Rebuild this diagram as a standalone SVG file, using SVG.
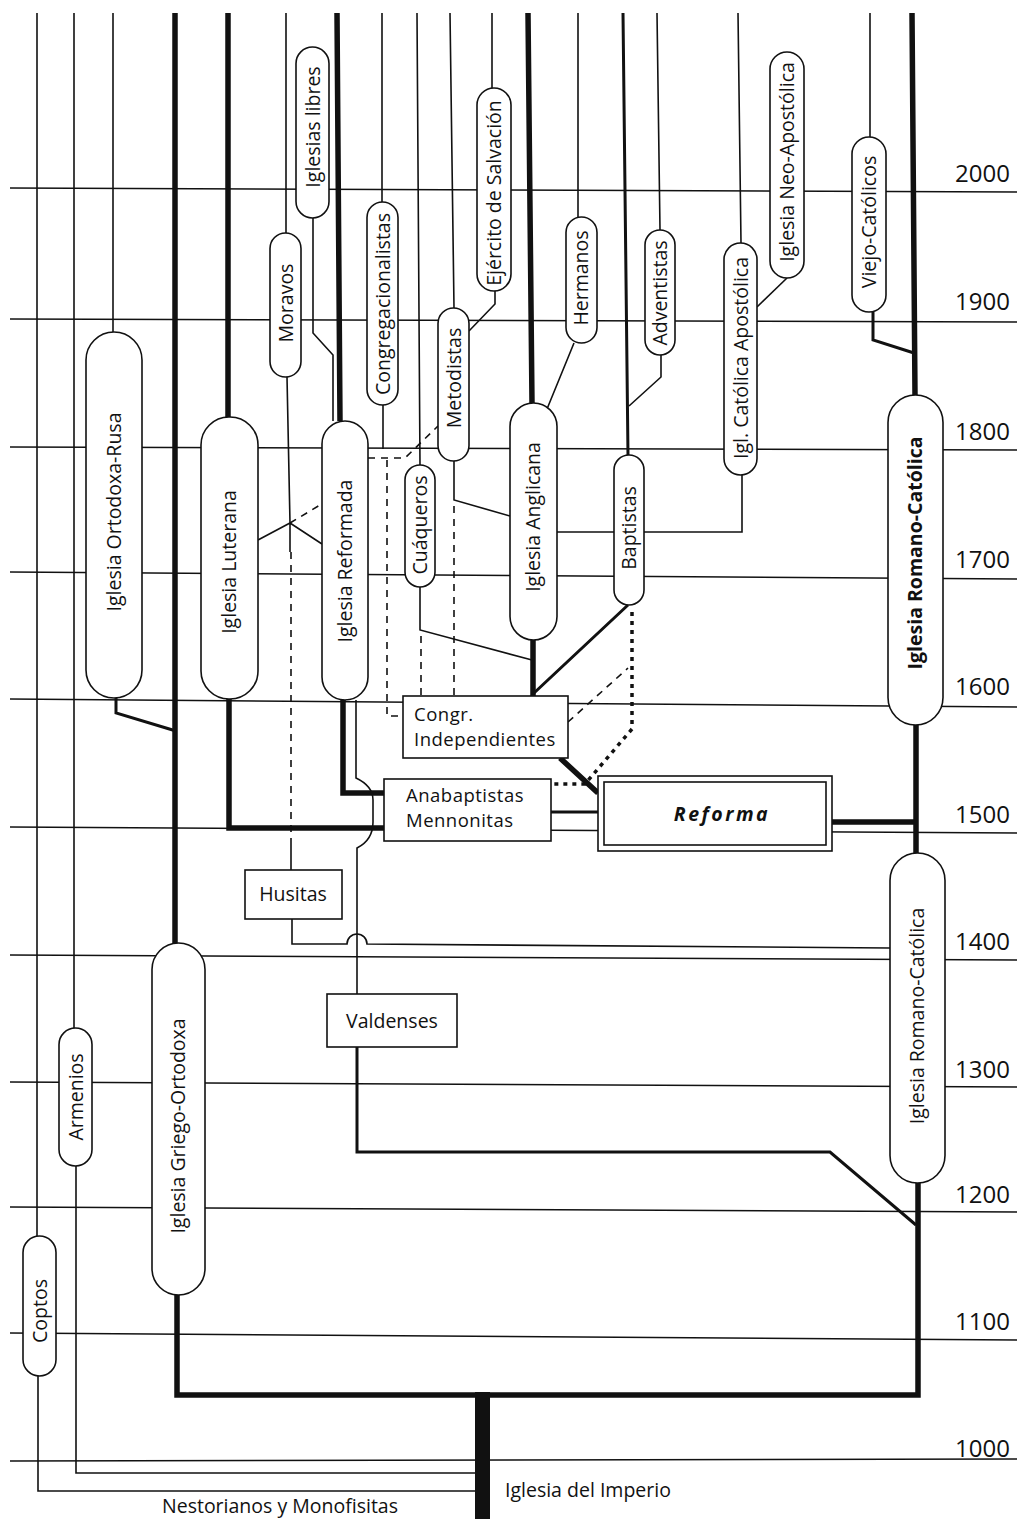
<svg xmlns="http://www.w3.org/2000/svg" width="1017" height="1519" viewBox="0 0 1017 1519">
<style>
.yl{stroke:#111;stroke-width:1.5;fill:none}
.c{stroke:#111;stroke-width:1.6;fill:none}
.m{stroke-width:3}
.k{stroke-width:5.5}
.d{stroke-dasharray:7 6}
.o{stroke-width:3.5;stroke-dasharray:4 5}
.p{fill:#fff;stroke:#111;stroke-width:1.6}
.t{font-family:"Open Sans","Liberation Sans",sans-serif;font-size:19.5px;fill:#111}
.b{font-size:18.5px;letter-spacing:0.5px}
.y{font-family:"Open Sans","Liberation Sans",sans-serif;font-size:24px;fill:#111}
</style>
<rect width="1017" height="1519" fill="#fff"/>
<g id="years">
<line class="yl" x1="10" y1="188" x2="1017" y2="192"/>
<line class="yl" x1="10" y1="319" x2="1017" y2="322"/>
<line class="yl" x1="10" y1="447" x2="1017" y2="450"/>
<line class="yl" x1="10" y1="572" x2="1017" y2="579"/>
<line class="yl" x1="10" y1="699" x2="1017" y2="707"/>
<line class="yl" x1="10" y1="827" x2="1017" y2="833"/>
<line class="yl" x1="10" y1="955" x2="1017" y2="960"/>
<line class="yl" x1="10" y1="1082" x2="1017" y2="1087"/>
<line class="yl" x1="10" y1="1207" x2="1017" y2="1212"/>
<line class="yl" x1="10" y1="1333" x2="1017" y2="1340"/>
<line class="yl" x1="10" y1="1461" x2="1017" y2="1459"/>
<text class="y" x="955" y="182">2000</text>
<text class="y" x="955" y="310">1900</text>
<text class="y" x="955" y="440">1800</text>
<text class="y" x="955" y="568">1700</text>
<text class="y" x="955" y="695">1600</text>
<text class="y" x="955" y="823">1500</text>
<text class="y" x="955" y="950">1400</text>
<text class="y" x="955" y="1078">1300</text>
<text class="y" x="955" y="1203">1200</text>
<text class="y" x="955" y="1330">1100</text>
<text class="y" x="955" y="1457">1000</text>
</g>
<g id="connectors">
<path class="c" d="M37,13 V1236 M38,1376 V1491 H476"/>
<path class="c" d="M74,13 V1028 M76,1166 V1473 H476"/>
<path class="c" d="M113,13 V332"/>
<path class="c m" d="M116,698 V713 L176,731"/>
<path class="c k" d="M175,13 V943"/>
<path class="c k" d="M177,1295 V1395 H918 V1183"/>
<rect x="475" y="1392" width="15" height="127" fill="#111"/>
<path class="c k" d="M228,13 V417 M229,699 V828 H384"/>
<path class="c" d="M286,13 V233 M287,377 L290,523 V552 M258,540 L290,523 L322,544 M291,840 V870"/>
<path class="c d" d="M290,523 L320,505 M291,552 V840"/>
<path class="c" d="M313,218 V333 L333,355 V421"/>
<path class="c k" d="M337,13 L340,421 M343,700 V793 H384"/>
<path class="c" d="M356,700 V778 Q373,786 373,800 V822 Q373,840 357,848 V994"/>
<path class="c m" d="M357,1047 V1152 H830 L916,1225"/>
<path class="c" d="M292,919 V944 H347 A10,10 0 0 1 367,944 L890,948"/>
<path class="c" d="M382,13 V202 M383,405 V449"/>
<path class="c d" d="M387,460 V716 H403 M368,458 H405 L438,426"/>
<path class="c" d="M417,13 L420,465 M420,587 V630 L532,660"/>
<path class="c d" d="M421,636 V696"/>
<path class="c" d="M450,13 L454,308 M454,461 V500 L510,516"/>
<path class="c d" d="M454,506 V696"/>
<path class="c" d="M492,13 V88 M495,291 V304 L469,331"/>
<path class="c k" d="M528,13 L532,403 M533,640 V696 M560,758 L598,793"/>
<path class="c" d="M578,13 V217 M574,343 L547,409"/>
<path class="c m" d="M623,13 L628,455 M628,605 L534,693"/>
<path class="c" d="M657,13 L660,230 M661,355 V377 L629,406"/>
<path class="c o" d="M632,612 V729 L585,784 H551"/>
<path class="c d" d="M568,722 L628,668"/>
<path class="c m" d="M551,812 H598"/>
<path class="c" d="M738,13 L741,243 M742,475 V532 H557"/>
<path class="c" d="M787,278 L757,307"/>
<path class="c" d="M870,13 V137"/>
<path class="c m" d="M873,312 V340 L914,353"/>
<path class="c k" d="M912,13 L915,395 M916,725 V853 M832,822 H916"/>
</g>
<g id="n-rusa"><rect class="p" x="86" y="332" width="56" height="366" rx="28"/><text class="t" transform="translate(114,512) rotate(-90)" text-anchor="middle" dy="6.5">Iglesia Ortodoxa-Rusa</text></g>
<g id="n-luterana"><rect class="p" x="201" y="417" width="57" height="282" rx="28"/><text class="t" transform="translate(229,562) rotate(-90)" text-anchor="middle" dy="6.5">Iglesia Luterana</text></g>
<g id="n-reformada"><rect class="p" x="322" y="421" width="46" height="279" rx="23"/><text class="t" transform="translate(345,561) rotate(-90)" text-anchor="middle" dy="6.5">Iglesia Reformada</text></g>
<g id="n-moravos"><rect class="p" x="270" y="233" width="31" height="144" rx="15.5"/><text class="t" transform="translate(286,303) rotate(-90)" text-anchor="middle" dy="6.5">Moravos</text></g>
<g id="n-libres"><rect class="p" x="296" y="47" width="33" height="171" rx="16.5"/><text class="t" transform="translate(313,127) rotate(-90)" text-anchor="middle" dy="6.5">Iglesias libres</text></g>
<g id="n-congregacionalistas"><rect class="p" x="367" y="202" width="31" height="203" rx="15.5"/><text class="t" transform="translate(383,304) rotate(-90)" text-anchor="middle" dy="6.5">Congregacionalistas</text></g>
<g id="n-cuaqueros"><rect class="p" x="405" y="465" width="30" height="122" rx="15"/><text class="t" transform="translate(420,525) rotate(-90)" text-anchor="middle" dy="6.5">Cuáqueros</text></g>
<g id="n-metodistas"><rect class="p" x="438" y="308" width="31" height="153" rx="15.5"/><text class="t" transform="translate(454,378) rotate(-90)" text-anchor="middle" dy="6.5">Metodistas</text></g>
<g id="n-ejercito"><rect class="p" x="477" y="88" width="34" height="203" rx="17"/><text class="t" transform="translate(494,193) rotate(-90)" text-anchor="middle" dy="6.5">Ejército de Salvación</text></g>
<g id="n-anglicana"><rect class="p" x="510" y="403" width="47" height="237" rx="23.5"/><text class="t" transform="translate(533,517) rotate(-90)" text-anchor="middle" dy="6.5">Iglesia Anglicana</text></g>
<g id="n-hermanos"><rect class="p" x="566" y="217" width="31" height="126" rx="15.5"/><text class="t" transform="translate(581,278) rotate(-90)" text-anchor="middle" dy="6.5">Hermanos</text></g>
<g id="n-baptistas"><rect class="p" x="614" y="455" width="30" height="150" rx="15"/><text class="t" transform="translate(629,528) rotate(-90)" text-anchor="middle" dy="6.5">Baptistas</text></g>
<g id="n-adventistas"><rect class="p" x="645" y="230" width="30" height="125" rx="15"/><text class="t" transform="translate(660,293) rotate(-90)" text-anchor="middle" dy="6.5">Adventistas</text></g>
<g id="n-catapost"><rect class="p" x="724" y="243" width="33" height="232" rx="16.5"/><text class="t" transform="translate(741,358) rotate(-90)" text-anchor="middle" dy="6.5">Igl. Católica Apostólica</text></g>
<g id="n-neoapost"><rect class="p" x="770" y="52" width="34" height="226" rx="17"/><text class="t" transform="translate(787,162) rotate(-90)" text-anchor="middle" dy="6.5">Iglesia Neo-Apostólica</text></g>
<g id="n-viejo"><rect class="p" x="852" y="137" width="34" height="175" rx="17"/><text class="t" transform="translate(869,222) rotate(-90)" text-anchor="middle" dy="6.5">Viejo-Católicos</text></g>
<g id="n-rc-upper"><rect class="p" x="888" y="395" width="55" height="330" rx="27.5"/><text class="t" transform="translate(915,553) rotate(-90)" text-anchor="middle" dy="6.5" font-weight="bold">Iglesia Romano-Católica</text></g>
<g id="n-rc-lower"><rect class="p" x="890" y="853" width="55" height="330" rx="27.5"/><text class="t" transform="translate(917,1016) rotate(-90)" text-anchor="middle" dy="6.5">Iglesia Romano-Católica</text></g>
<g id="n-griego"><rect class="p" x="152" y="943" width="53" height="352" rx="26.5"/><text class="t" transform="translate(178,1126) rotate(-90)" text-anchor="middle" dy="6.5">Iglesia Griego-Ortodoxa</text></g>
<g id="n-armenios"><rect class="p" x="59" y="1028" width="33" height="138" rx="16.5"/><text class="t" transform="translate(76,1097) rotate(-90)" text-anchor="middle" dy="6.5">Armenios</text></g>
<g id="n-coptos"><rect class="p" x="23" y="1236" width="33" height="140" rx="16.5"/><text class="t" transform="translate(40,1311) rotate(-90)" text-anchor="middle" dy="6.5">Coptos</text></g>
<g id="n-congrind"><rect class="p" x="403" y="696" width="165" height="62"/><text class="t b" x="414" y="721">Congr.</text><text class="t b" x="414" y="746">Independientes</text></g>
<g id="n-anabaptistas"><rect class="p" x="384" y="779" width="167" height="62"/><text class="t b" x="406" y="802">Anabaptistas</text><text class="t b" x="406" y="827">Mennonitas</text></g>
<g id="n-reforma"><rect class="p" x="598" y="776" width="234" height="75"/><rect class="p" x="604" y="782" width="222" height="63" stroke-width="2"/><text class="t" x="722" y="821" text-anchor="middle" font-size="24" font-weight="bold" font-style="italic" letter-spacing="2.5">Reforma</text></g>
<g id="n-husitas"><rect class="p" x="245" y="870" width="97" height="49"/><text class="t" x="293" y="901" text-anchor="middle">Husitas</text></g>
<g id="n-valdenses"><rect class="p" x="327" y="994" width="130" height="53"/><text class="t" x="392" y="1028" text-anchor="middle">Valdenses</text></g>
<g id="labels">
<text class="t" x="505" y="1497" font-size="20.5">Iglesia del Imperio</text>
<text class="t" x="280" y="1513" text-anchor="middle" font-size="20.5">Nestorianos y Monofisitas</text>
</g>
</svg>
